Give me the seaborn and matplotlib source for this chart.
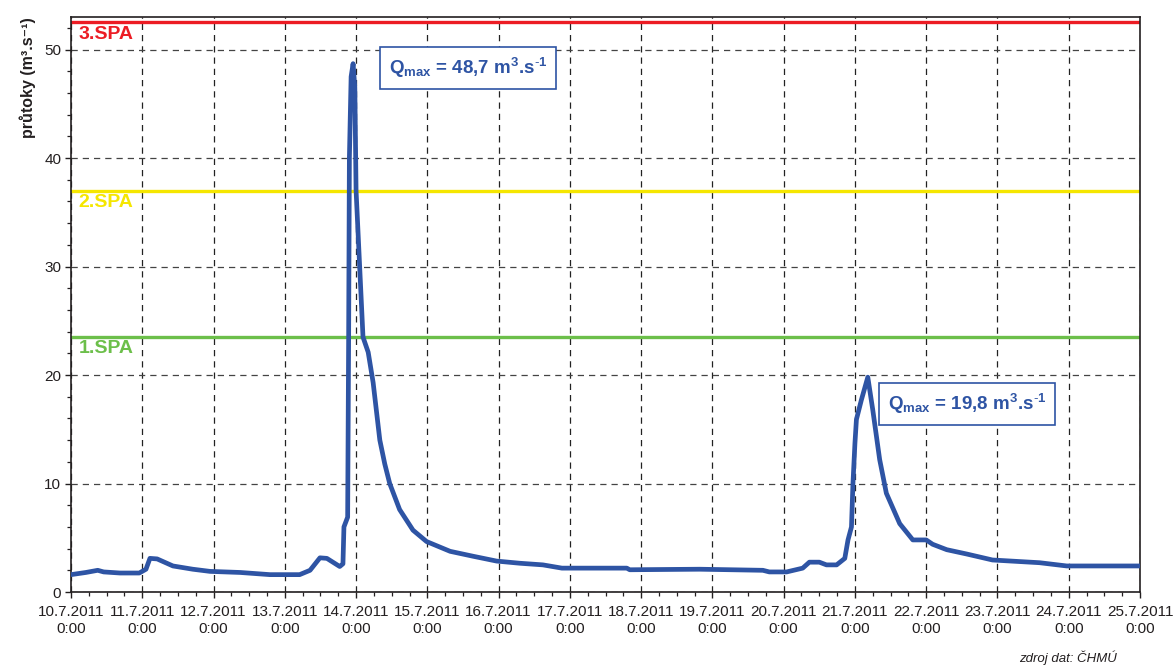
import matplotlib
matplotlib.use("Agg")
import matplotlib.pyplot as plt
import matplotlib.dates as mdates
from matplotlib.ticker import MultipleLocator, FuncFormatter
import numpy as np
import pandas as pd
import seaborn as sns

# Discharge record (time stamps and flow in m3/s)
times = [
    "2011-07-10 00:00", "2011-07-10 05:00", "2011-07-10 09:00", "2011-07-10 11:00",
    "2011-07-10 16:30", "2011-07-10 23:00", "2011-07-11 01:15", "2011-07-11 02:35",
    "2011-07-11 05:00", "2011-07-11 10:20", "2011-07-11 17:00", "2011-07-11 22:50",
    "2011-07-12 09:00", "2011-07-12 19:00", "2011-07-13 05:00", "2011-07-13 08:30",
    "2011-07-13 11:50", "2011-07-13 14:10", "2011-07-13 18:30", "2011-07-13 19:35",
    "2011-07-13 19:55", "2011-07-13 21:10", "2011-07-13 21:30", "2011-07-13 21:45",
    "2011-07-13 22:20", "2011-07-13 23:00", "2011-07-13 23:35", "2011-07-14 00:00",
    "2011-07-14 02:20", "2011-07-14 04:05", "2011-07-14 05:45", "2011-07-14 08:00",
    "2011-07-14 09:40", "2011-07-14 11:20", "2011-07-14 14:40", "2011-07-14 19:10",
    "2011-07-14 23:45", "2011-07-15 07:40", "2011-07-15 15:20", "2011-07-15 23:20",
    "2011-07-16 07:10", "2011-07-16 14:55", "2011-07-16 21:20", "2011-07-17 19:10",
    "2011-07-17 20:10", "2011-07-18 19:40", "2011-07-19 17:00", "2011-07-19 19:10",
    "2011-07-20 01:00", "2011-07-20 06:25", "2011-07-20 08:40", "2011-07-20 12:00",
    "2011-07-20 14:25", "2011-07-20 17:50", "2011-07-20 20:35", "2011-07-20 21:40",
    "2011-07-20 22:50", "2011-07-20 23:20", "2011-07-21 00:00", "2011-07-21 00:30",
    "2011-07-21 02:10", "2011-07-21 04:20", "2011-07-21 06:00", "2011-07-21 08:20",
    "2011-07-21 10:35", "2011-07-21 15:05", "2011-07-21 19:30", "2011-07-22 00:00",
    "2011-07-22 02:10", "2011-07-22 06:55", "2011-07-22 13:40", "2011-07-22 22:20",
    "2011-07-23 14:10", "2011-07-23 23:20", "2011-07-25 00:00",
]
flow = [
    1.6, 1.8, 2.0, 1.85,
    1.75, 1.75, 2.1, 3.1,
    3.05, 2.4, 2.1, 1.9,
    1.8, 1.6, 1.6, 2.0,
    3.15, 3.1, 2.35, 2.6,
    6.0, 6.9, 23.5, 40.0,
    47.5, 48.7, 46.5, 37.0,
    23.5, 22.1, 19.3, 14.0,
    11.8, 10.0, 7.6, 5.7,
    4.65, 3.75, 3.3, 2.85,
    2.65, 2.5, 2.2, 2.2,
    2.05, 2.1, 2.0, 1.85,
    1.85, 2.2, 2.75, 2.75,
    2.5, 2.5, 3.1, 4.8,
    6.0, 10.0, 13.7, 15.9,
    17.7, 19.8, 16.8, 12.2,
    9.1, 6.3, 4.8, 4.8,
    4.4, 3.9, 3.5, 2.95,
    2.7, 2.4, 2.4,
]

# Flood activity levels (SPA) in m3/s
spa_labels = ["1.SPA", "2.SPA", "3.SPA"]
spa_values = [23.5, 37.0, 52.5]
spa_colors = ["#6cbf4a", "#f5e600", "#ec1c24"]

# Peak annotations
peak_values = [48.7, 19.8]
box_left = ["2011-07-14 11:00", "2011-07-21 11:00"]
box_y = [48.3, 17.3]

blue = "#2e54a4"

df = pd.DataFrame({"time": pd.to_datetime(times), "flow": flow})

sns.set_theme(style="ticks")
plt.rcParams["font.family"] = ["Liberation Sans", "DejaVu Sans"]
plt.rcParams["mathtext.fontset"] = "custom"
plt.rcParams["mathtext.rm"] = "Liberation Sans"
plt.rcParams["mathtext.bf"] = "Liberation Sans:bold"
plt.rcParams["mathtext.it"] = "Liberation Sans:italic"

fig = plt.figure(figsize=(11.75, 6.68), dpi=100)
ax = fig.add_axes([71 / 1175, 76 / 668, (1140 - 71) / 1175, (592 - 17) / 668])

xmin = pd.Timestamp("2011-07-10 00:00")
xmax = pd.Timestamp("2011-07-25 00:00")
ax.set_xlim(xmin, xmax)
ax.set_ylim(0, 53)

# grid
ax.xaxis.set_major_locator(mdates.DayLocator())
ax.xaxis.set_minor_locator(mdates.HourLocator(byhour=[6, 12, 18]))
ax.yaxis.set_major_locator(MultipleLocator(10))
ax.yaxis.set_minor_locator(MultipleLocator(2))
ax.grid(True, which="major", axis="x", color="#222222", linestyle=(0, (5, 4)), linewidth=0.9)
ax.grid(True, which="major", axis="y", color="#444444", linestyle=(0, (5, 4)), linewidth=0.9)
ax.set_axisbelow(True)

# SPA threshold lines
for lab, val, col in zip(spa_labels, spa_values, spa_colors):
    ax.axhline(val, color=col, linewidth=2.4, zorder=2)
    ax.text(pd.Timestamp("2011-07-10 02:30"), val - 0.3, lab, color=col,
            fontsize=14, fontweight="bold", ha="left", va="top", zorder=3)

sns.lineplot(data=df, x="time", y="flow", ax=ax, color=blue, linewidth=3.4,
             zorder=4, estimator=None, sort=False)

# peak labels
for pv, bl, by in zip(peak_values, box_left, box_y):
    txt = (r"Q$_{\mathbf{max}}$ = " + f"{pv:.1f}".replace(".", ",")
           + r" m$^{\mathbf{3}}$.s$^{\mathbf{\text{-}1}}$")
    ax.text(pd.Timestamp(bl), by, txt, color=blue, fontsize=13.5,
            fontweight="bold", ha="left", va="center", zorder=5,
            bbox=dict(boxstyle="square,pad=0.47", facecolor="white",
                      edgecolor=blue, linewidth=1.2))

def fmt_date(x, pos):
    d = mdates.num2date(x)
    return f"{d.day}.{d.month}.{d.year}\n{d.hour}:{d.minute:02d}"

ax.xaxis.set_major_formatter(FuncFormatter(fmt_date))

for s in ax.spines.values():
    s.set_color("#231f20")
    s.set_linewidth(1.2)

ax.tick_params(axis="both", which="major", direction="out", length=4, width=1,
               color="#231f20", labelcolor="#231f20", labelsize=11)
ax.tick_params(axis="both", which="minor", direction="out", length=3, width=0.9,
               color="#231f20")
ax.tick_params(axis="x", pad=5)
ax.tick_params(axis="y", pad=3)
for lbl in ax.get_xticklabels():
    lbl.set_linespacing(1.3)

ax.set_xlabel("")
ax.set_ylabel("průtoky (m³.s⁻¹)", fontsize=11.5,
              fontweight="bold", color="#231f20", labelpad=6, loc="top")

fig.text(1117 / 1175, 1 - 662 / 668, "zdroj dat: ČHMÚ", fontsize=9.5,
         style="italic", color="#231f20", ha="right", va="baseline")

fig.savefig("out.png", dpi=100)
